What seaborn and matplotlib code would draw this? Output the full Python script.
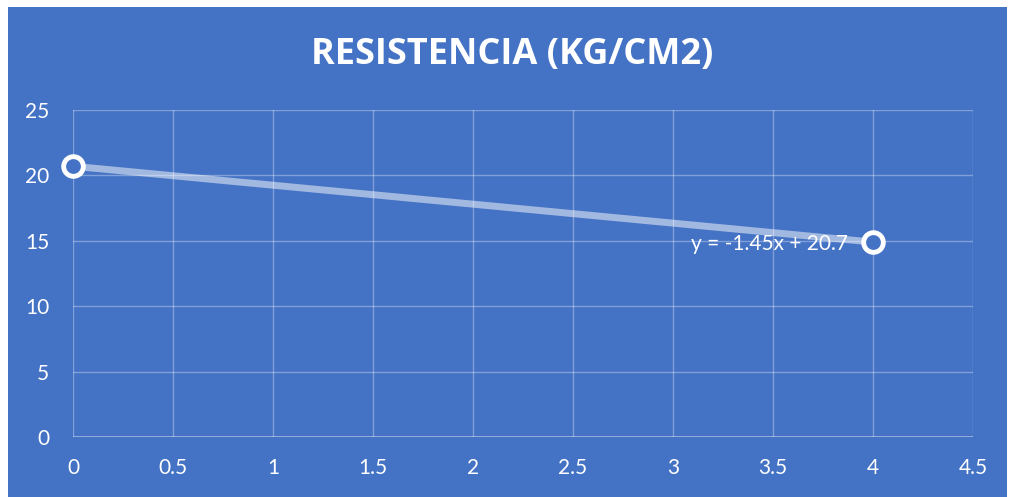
import numpy as np
import pandas as pd
import matplotlib
matplotlib.use('Agg')
import matplotlib.pyplot as plt
import seaborn as sns
from matplotlib.patches import Rectangle

# datos
edad = [0, 4]
resistencia = [20.7, 14.9]
x_ticks = [0, 0.5, 1, 1.5, 2, 2.5, 3, 3.5, 4, 4.5]
y_ticks = [0, 5, 10, 15, 20, 25]
titulo = 'RESISTENCIA (KG/CM2)'
ecuacion = 'y = -1.45x + 20.7'

df = pd.DataFrame({'x': edad, 'y': resistencia})

azul = '#4472C4'
sns.set_style('white')
plt.rcParams['font.family'] = ['Lato', 'DejaVu Sans']

fig = plt.figure(figsize=(10.1, 4.97), dpi=100)
fig.patch.set_facecolor('white')
fig.patches.append(Rectangle((8 / 1010, 0), 999 / 1010, 1 - 7 / 497,
                             transform=fig.transFigure, facecolor=azul,
                             edgecolor='none', zorder=-5))

ax = fig.add_axes([73 / 1010, 1 - 437 / 497, 900 / 1010, 327 / 497])
ax.set_facecolor('none')
ax.set_zorder(2)

# linea de tendencia
sns.regplot(data=df, x='x', y='y', ax=ax, ci=None, scatter=False,
            line_kws={'color': 'white', 'alpha': 0.5, 'linewidth': 5,
                      'solid_capstyle': 'butt', 'zorder': 3})
# puntos
sns.scatterplot(data=df, x='x', y='y', ax=ax, s=200, marker='o',
                facecolor=azul, edgecolor='white', linewidth=3.5, zorder=4,
                clip_on=False)

ax.set_xlim(0, 4.5)
ax.set_ylim(0, 25)
ax.set_xticks(x_ticks)
ax.set_yticks(y_ticks)
ax.set_xticklabels([str(t) for t in x_ticks])
ax.set_yticklabels([str(t) for t in y_ticks])
ax.tick_params(axis='both', colors='white', labelsize=15, length=0)
ax.tick_params(axis='x', pad=15)
ax.tick_params(axis='y', pad=17)
ax.grid(True, color='white', alpha=0.33, linewidth=1)
for s in ax.spines.values():
    s.set_visible(False)
ax.axhline(0, color='white', alpha=0.45, linewidth=1.2, zorder=2)
ax.set_xlabel('')
ax.set_ylabel('')

ax.text(3.875, 14.75, ecuacion, ha='right', va='center', color='white',
        fontsize=15)

fig.text(512 / 1010, 1 - 55 / 497, titulo, ha='center', va='center',
         color='white', fontsize=26, fontweight='bold',
         family=['Open Sans', 'DejaVu Sans'])

plt.savefig('out.png', dpi=100)
